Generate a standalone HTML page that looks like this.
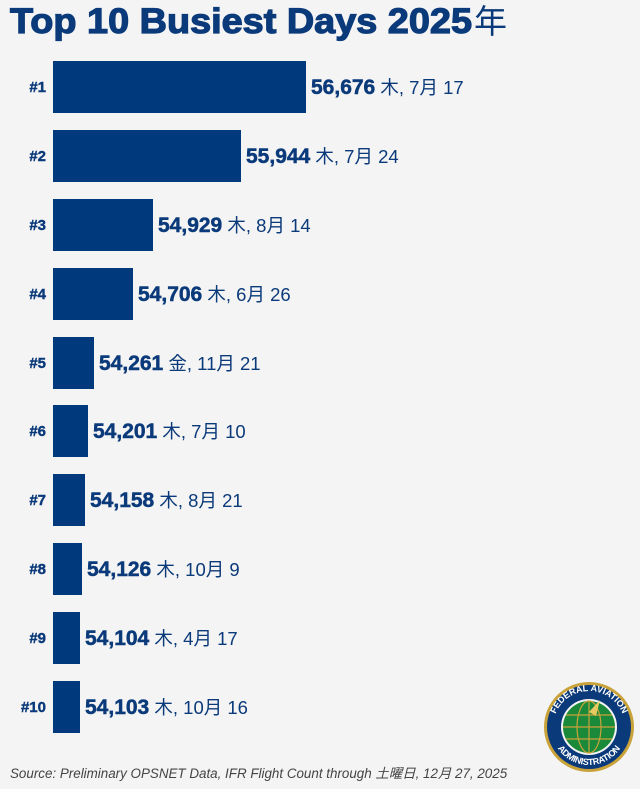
<!DOCTYPE html>
<html><head><meta charset="utf-8"><style>
html,body{margin:0;padding:0;background:#f4f4f4;}
svg{display:block;font-family:"Liberation Sans","Noto Sans CJK JP",sans-serif;}
</style></head><body>
<svg width="640" height="789" viewBox="0 0 640 789" xmlns="http://www.w3.org/2000/svg">
<rect width="640" height="789" fill="#f4f4f4"/>
<text x="10" y="33" font-size="35" font-weight="900" fill="#0b3a7a" stroke="#0b3a7a" stroke-width="1.2" textLength="462" lengthAdjust="spacingAndGlyphs">Top 10 Busiest Days 2025</text>
<text x="474" y="33" font-size="33" fill="#0b3a7a" font-family="Noto Sans CJK JP,sans-serif">年</text>
<g fill="#003a7d">
<rect x="53" y="61" width="253" height="52"/>
<rect x="53" y="130" width="188" height="52"/>
<rect x="53" y="199" width="100" height="52"/>
<rect x="53" y="268" width="80" height="52"/>
<rect x="53" y="337" width="41" height="52"/>
<rect x="53" y="405" width="35" height="52"/>
<rect x="53" y="474" width="32" height="52"/>
<rect x="53" y="543" width="29" height="52"/>
<rect x="53" y="612" width="27" height="52"/>
<rect x="53" y="681" width="27" height="52"/>
</g>
<g font-size="15" font-weight="bold" fill="#0b3a7a" text-anchor="end" stroke="#0b3a7a" stroke-width="0.4">
<text x="46" y="92">#1</text><text x="46" y="161">#2</text><text x="46" y="230">#3</text><text x="46" y="299">#4</text><text x="46" y="368">#5</text><text x="46" y="436">#6</text><text x="46" y="505">#7</text><text x="46" y="574">#8</text><text x="46" y="643">#9</text><text x="46" y="712">#10</text>
</g>
<g font-size="18.5" fill="#0b3a7a">
<text x="311" y="94"><tspan font-weight="bold" font-size="21" stroke="#0b3a7a" stroke-width="0.5">56,676</tspan> 木, 7月 17</text>
<text x="246" y="163"><tspan font-weight="bold" font-size="21" stroke="#0b3a7a" stroke-width="0.5">55,944</tspan> 木, 7月 24</text>
<text x="158" y="232"><tspan font-weight="bold" font-size="21" stroke="#0b3a7a" stroke-width="0.5">54,929</tspan> 木, 8月 14</text>
<text x="138" y="301"><tspan font-weight="bold" font-size="21" stroke="#0b3a7a" stroke-width="0.5">54,706</tspan> 木, 6月 26</text>
<text x="99" y="370"><tspan font-weight="bold" font-size="21" stroke="#0b3a7a" stroke-width="0.5">54,261</tspan> 金, 11月 21</text>
<text x="93" y="438"><tspan font-weight="bold" font-size="21" stroke="#0b3a7a" stroke-width="0.5">54,201</tspan> 木, 7月 10</text>
<text x="90" y="507"><tspan font-weight="bold" font-size="21" stroke="#0b3a7a" stroke-width="0.5">54,158</tspan> 木, 8月 21</text>
<text x="87" y="576"><tspan font-weight="bold" font-size="21" stroke="#0b3a7a" stroke-width="0.5">54,126</tspan> 木, 10月 9</text>
<text x="85" y="645"><tspan font-weight="bold" font-size="21" stroke="#0b3a7a" stroke-width="0.5">54,104</tspan> 木, 4月 17</text>
<text x="85" y="714"><tspan font-weight="bold" font-size="21" stroke="#0b3a7a" stroke-width="0.5">54,103</tspan> 木, 10月 16</text>
</g>
<text x="10" y="778" font-size="13.4" font-style="italic" fill="#444">Source: Preliminary OPSNET Data, IFR Flight Count through 土曜日, 12月 27, 2025</text>
<g>
<defs>
<path id="top" d="M553 727 A36 36 0 0 1 625 727"/>
<path id="bot" d="M549 727 A40 40 0 0 0 629 727"/>
</defs>
<circle cx="589" cy="727" r="45" fill="#c9a23a"/>
<circle cx="589" cy="727" r="42" fill="#0b3a7a"/>
<text font-size="9" font-weight="bold" fill="#fff" text-anchor="middle"><textPath href="#top" startOffset="50%">FEDERAL AVIATION</textPath></text>
<text font-size="9" font-weight="bold" fill="#fff" text-anchor="middle" dy="-2"><textPath href="#bot" startOffset="50%">ADMINISTRATION</textPath></text>
<circle cx="589" cy="727" r="28" fill="#f4f4f4"/>
<circle cx="589" cy="727" r="26" fill="#1a8a3a"/>
<g stroke="#c9a23a" stroke-width="1.2" fill="none">
<ellipse cx="589" cy="727" rx="12" ry="26"/>
<line x1="563" y1="727" x2="615" y2="727"/>
<line x1="589" y1="701" x2="589" y2="753"/>
<line x1="566" y1="715" x2="612" y2="715"/>
<line x1="566" y1="739" x2="612" y2="739"/>
</g>
<path d="M589 712 L600 700 L596 716 Z" fill="#e8c860"/>
</g>
</svg>
</body></html>
